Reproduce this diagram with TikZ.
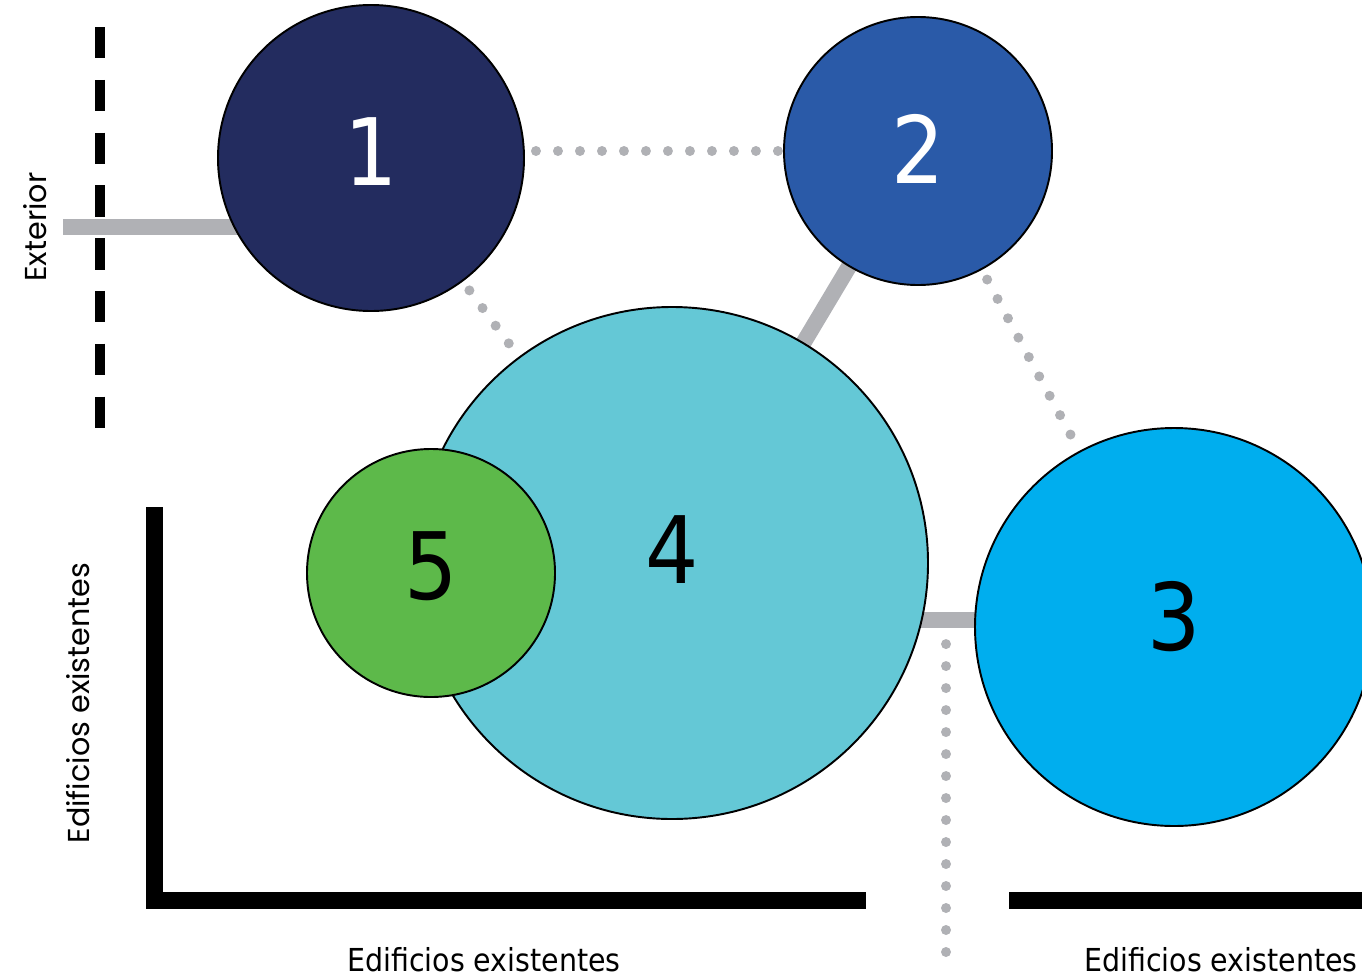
\documentclass[tikz,border=0pt]{standalone}
\usepackage{fontspec}
\setmainfont{DejaVu Sans Condensed}
\newfontfamily\roundfont{Poppins}
\usepackage{tikz}
\usepackage{xcolor}
\usetikzlibrary{positioning, backgrounds}

\definecolor{navy}{HTML}{232C5F}
\definecolor{royal}{HTML}{2A5AA8}
\definecolor{sky}{HTML}{00AEEE}
\definecolor{aqua}{HTML}{64C8D6}
\definecolor{leaf}{HTML}{5DB94A}
\definecolor{linkgray}{HTML}{B0B1B5}

\begin{document}
\begin{tikzpicture}[x=0.02cm, y=-0.02cm,
  bubble/.style={circle, draw=black, line width=1.1pt, inner sep=0pt, minimum size=#1*0.02cm, font=\fontsize{53}{53}\selectfont},
  lift/.style={text depth=#1*0.02cm},
  link/.style={draw=linkgray, line width=0.32cm},
  dots/.style={draw=linkgray, line width=0.2cm, line cap=round, dash pattern=on 0pt off 0.44cm},
  wall/.style={line width=0.34cm},
  note/.style={font=\fontsize{18}{18}\selectfont},
  side/.style={font=\roundfont\fontsize{17.2}{17.2}\selectfont, rotate=90},
]
\useasboundingbox (0,0) rectangle (1362,977);
\clip (0,0) rectangle (1362,977);

% bubbles
\node[bubble=306, lift=12, fill=navy, text=white] (c1) at (371,158) {1};
\node[bubble=268, lift=4, fill=royal, text=white] (c2) at (918,151) {2};
\node[bubble=398, lift=22, fill=sky] (c3) at (1174,627) {3};
\node[bubble=512, lift=26, fill=aqua] (c4) at (672,563) {4};
\node[bubble=248, lift=14, fill=leaf] (c5) at (431,573) {5};

\coordinate (ext) at (63,227);
\coordinate (j) at (946,620);
\coordinate (drop) at (946,952);

% connections
\begin{scope}[on background layer]
\draw[link] (ext) -- (ext -| c1.center);
\draw[dots, shorten <=0.22cm] (c1.east |- c2) -- (c2.west);
\draw[dots, shorten <=0.22cm] (c1) -- (c4);
\draw[link] (c2.center) -- (c4.center);
\draw[dots, shorten <=0.22cm] (c2) -- (c3);
\draw[dots] (drop) -- (j);
\draw[link] (c4.center |- j) -- (c3.center |- j);
\end{scope}

% walls
\draw[line width=0.2cm, dash pattern=on 0.63cm off 0.426cm] (100,27) -- (100,428);
\draw[wall] (154,507) -- (154,900) -- (866,900);
\draw[wall] (1009,900) -- (1362,900);

% labels
\node[side] (lext) at (35,227) {Exterior};
\node[side] (lleft) at (78,703) {Edificios existentes};
\node[note] (lbot1) at (484,960) {Edificios existentes};
\node[note] (lbot2) at (1221,960) {Edificios existentes};
\end{tikzpicture}
\end{document}
